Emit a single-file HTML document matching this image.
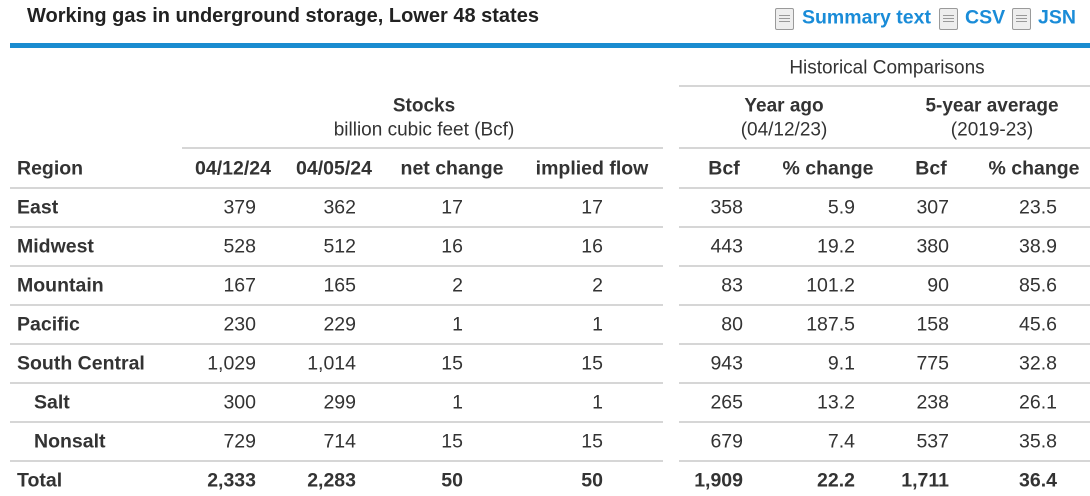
<!DOCTYPE html>
<html><head><meta charset="utf-8">
<style>
body{margin:0;width:1090px;height:496px;background:#fff;font-family:"Liberation Sans",Arial,sans-serif;color:#333;position:relative;overflow:hidden}
.a{position:absolute;white-space:nowrap;line-height:1}
.b{font-weight:bold}
.r{transform:translate(-100%,-50%)}
.c{transform:translate(-50%,-50%)}
.l{transform:translate(0,-50%)}
.ln{position:absolute;height:2px;background:#d6d6d6}
.icon{position:absolute;width:17px;height:20px;border:1px solid #9a9a9a;border-radius:2px;background:#eee}
.icon i{position:absolute;left:3px;width:11px;height:1px;background:#999}
.lk{color:#1a8cd8;font-weight:bold;font-size:19.5px}
</style></head><body>
<div class="a b l" style="left:27px;top:16px;font-size:20px;color:#222">Working gas in underground storage, Lower 48 states</div>

<div class="icon" style="left:775px;top:8px"><i style="top:6px"></i><i style="top:9px"></i><i style="top:12px"></i></div>
<div class="a lk l" style="left:802px;top:18px">Summary text</div>
<div class="icon" style="left:939px;top:8px"><i style="top:6px"></i><i style="top:9px"></i><i style="top:12px"></i></div>
<div class="a lk l" style="left:965px;top:18px">CSV</div>
<div class="icon" style="left:1012px;top:8px"><i style="top:6px"></i><i style="top:9px"></i><i style="top:12px"></i></div>
<div class="a lk l" style="left:1038px;top:18px">JSN</div>

<div style="position:absolute;left:10px;top:43px;width:1080px;height:5px;background:#1a8cd0"></div>

<div class="a c" style="left:887px;top:68px;font-size:19px">Historical Comparisons</div>
<div class="ln" style="left:679px;top:85px;width:411px"></div>
<div class="a b c" style="left:424px;top:106px;font-size:19px">Stocks</div>
<div class="a c" style="left:424px;top:130px;font-size:19px">billion cubic feet (Bcf)</div>
<div class="a b c" style="left:784px;top:106px;font-size:19px">Year ago</div>
<div class="a c" style="left:784px;top:130px;font-size:19px">(04/12/23)</div>
<div class="a b c" style="left:992px;top:106px;font-size:19px">5-year average</div>
<div class="a c" style="left:992px;top:130px;font-size:19px">(2019-23)</div>
<div class="ln" style="left:182px;top:147px;width:481px"></div>
<div class="ln" style="left:679px;top:147px;width:411px"></div>

<div id="tbl"></div>
<script>
const regions=["East","Midwest","Mountain","Pacific","South Central","Salt","Nonsalt","Total"];
const stocksNow=["379","528","167","230","1,029","300","729","2,333"];
const stocksPrev=["362","512","165","229","1,014","299","714","2,283"];
const netChange=["17","16","2","1","15","1","15","50"];
const impliedFlow=["17","16","2","1","15","1","15","50"];
const yearAgoBcf=["358","443","83","80","943","265","679","1,909"];
const yearAgoPct=["5.9","19.2","101.2","187.5","9.1","13.2","7.4","22.2"];
const fiveYrBcf=["307","380","90","158","775","238","537","1,711"];
const fiveYrPct=["23.5","38.9","85.6","45.6","32.8","26.1","35.8","36.4"];
const headers=["04/12/24","04/05/24","net change","implied flow","Bcf","% change","Bcf","% change"];
const headerCenters=[233,334,452,592,724,828,931,1034];
const valueRights=[256,356,463,603,743,855,949,1057];
const cols=[stocksNow,stocksPrev,netChange,impliedFlow,yearAgoBcf,yearAgoPct,fiveYrBcf,fiveYrPct];
const colNames=["stocks-04-12-24","stocks-04-05-24","net-change","implied-flow","year-ago-bcf","year-ago-pct","five-year-bcf","five-year-pct"];
const T=document.getElementById('tbl');
function mk(cls,x,y,txt,bold){const d=document.createElement('div');d.className='a '+cls+(bold?' b':'');d.style.left=x+'px';d.style.top=y+'px';d.style.fontSize='19.5px';d.textContent=txt;T.appendChild(d);return d;}
function rule(y,i){
  const a=document.createElement('div');a.className='ln';a.style.left='10px';a.style.top=y+'px';a.style.width='653px';
  
  
  T.appendChild(a);
  const b=document.createElement('div');b.className='ln';b.style.left='679px';b.style.top=y+'px';b.style.width='411px';
  
  
  T.appendChild(b);
}
const hy=169;
let h=mk('l',17,hy,'Region',true);


headers.forEach((t,i)=>{const e=mk('c',headerCenters[i],hy,t,true);
  
  });
rule(187,0);
regions.forEach((r,k)=>{
  const y=208+k*39;
  const isTotal=k===7;
  const e=mk('l',(k===5||k===6)?34:17,y,r,true);
  
  
  cols.forEach((c,i)=>{const v=mk('r',valueRights[i],y,c[k],isTotal);
    
    });
  if(k<7) rule(y+18,k+1);
});
</script>
</body></html>
